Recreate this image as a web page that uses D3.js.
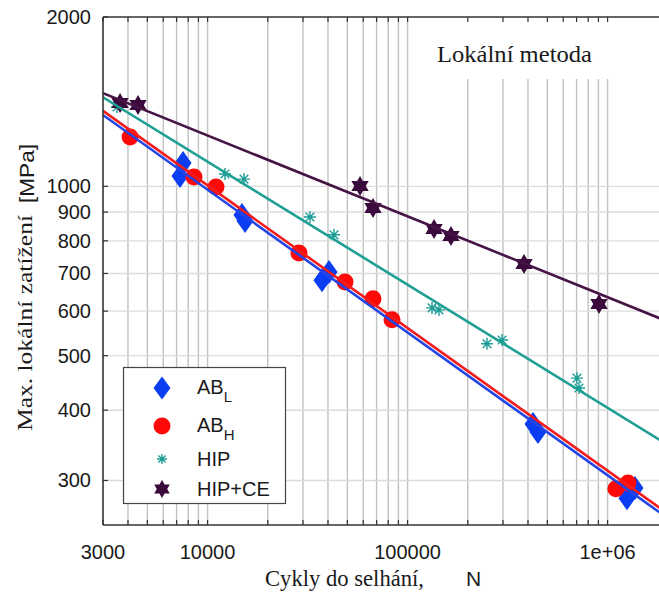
<!DOCTYPE html>
<html>
<head>
<meta charset="utf-8">
<script src="https://cdn.jsdelivr.net/npm/d3@7"></script>
<style>
  body { margin: 0; background: #fff; }
  svg { display: block; }
</style>
</head>
<body>
<svg id="chart" width="659" height="596"></svg>
<script>
// Fatigue test results: cycles to failure N vs. max. local stress [MPa]
const abL   = [[7540,1100],[7280,1043],[14860,889],[15390,868],[37340,681],[40470,704],
               [423900,378],[448800,366],[1371000,291],[1250000,279]];
const abH   = [[4100,1224],[8550,1039],[11020,997],[28650,761],[48670,676],[67170,631],
               [83580,579],[1100000,290],[1265000,297]];
const hip   = [[3525,1384],[12220,1052],[15210,1030],[32510,882],[42880,820],[132500,608],
               [143600,603],[249500,525],[296600,533],[703000,456],[719600,438]];
const hipCe = [[3650,1407],[4490,1395],[57840,1001],[67170,915],[135600,840],[164800,816],
               [382200,728],[906000,618]];

// Fitted S-N lines (end points at the axis limits)
const fitAbL   = [[3000,1339],[2000000,257]];
const fitAbH   = [[3000,1362],[2000000,262]];
const fitHip   = [[3000,1440],[2000000,347]];
const fitHipCe = [[3000,1464],[2000000,575]];

const xTickValues = [3000, 10000, 100000, 1000000];
const xTickLabels = ["3000", "10000", "100000", "1e+06"];
const yTickValues = [300, 400, 500, 600, 700, 800, 900, 1000, 2000];
const yTickLabels = ["300", "400", "500", "600", "700", "800", "900", "1000", "2000"];

const legendMain = ["AB", "AB", "HIP", "HIP+CE"];
const legendSub  = ["L", "H", "", ""];

const C = {
  blue: "#0b3df3", blueLine: "#2446e6",
  red: "#ff0808", redLine: "#f21c1c",
  teal: "#1c9c96", tealLine: "#1d9f93",
  purple: "#3a0a3c", purpleLine: "#461545"
};

const svg = d3.select("#chart");
const pLeft = 103, pTop = 17, pBottom = 525;

const x = d3.scaleLog().domain([3000, 2000000]).range([pLeft, 103 + 200 * Math.log10(2000000 / 3000)]);
const y = d3.scaleLog().domain([250, 2000]).range([pBottom, pTop]);
const pRight = x.range()[1];

const sans = "'Liberation Sans', Arial, Helvetica, sans-serif";
const serif = "'Liberation Serif', 'Times New Roman', serif";

svg.append("defs").append("clipPath").attr("id", "plotClip")
  .append("rect").attr("x", pLeft).attr("y", pTop).attr("width", pRight - pLeft).attr("height", pBottom - pTop);

// grid
const minorX = x.ticks().filter(v => v > 3000);
const grid = svg.append("g");
grid.selectAll("line.gx").data(minorX).join("line")
  .attr("x1", d => x(d)).attr("x2", d => x(d))
  .attr("y1", pTop).attr("y2", pBottom)
  .attr("stroke", "#c2c2c2").attr("stroke-width", 1.4);
grid.selectAll("line.gy").data(yTickValues.filter(v => v < 2000)).join("line")
  .attr("x1", pLeft).attr("x2", pRight)
  .attr("y1", d => y(d)).attr("y2", d => y(d))
  .attr("stroke", "#dcdcdc").attr("stroke-width", 1.4);

// title panel
svg.append("rect").attr("x", 425).attr("y", pTop + 1).attr("width", 260).attr("height", 61).attr("fill", "#fff");
svg.append("text").attr("x", 437).attr("y", 62)
  .attr("font-family", serif).attr("font-size", 23.5).attr("fill", "#1a1a1a")
  .attr("textLength", 155).attr("lengthAdjust", "spacingAndGlyphs")
  .text("Lokální metoda");

// markers
const plot = svg.append("g").attr("clip-path", "url(#plotClip)");

function diamondPath(w, h) {
  return `M0,${-h}L${w},0L0,${h}L${-w},0Z`;
}
function hexagramPath(R) {
  const r = R / Math.sqrt(3);
  const pts = [];
  for (let k = 0; k < 12; k++) {
    const a = -Math.PI / 2 + k * Math.PI / 6;
    const rad = k % 2 === 0 ? R : r;
    pts.push([rad * Math.cos(a), rad * Math.sin(a)]);
  }
  return "M" + pts.map(p => p[0].toFixed(2) + "," + p[1].toFixed(2)).join("L") + "Z";
}
function asteriskPath(s) {
  const d = s * 0.72;
  return `M${-s},0L${s},0M0,${-s}L0,${s}M${-d},${-d}L${d},${d}M${-d},${d}L${d},${-d}`;
}

plot.selectAll("path.abL").data(abL).join("path")
  .attr("transform", d => `translate(${x(d[0])},${y(d[1])})`)
  .attr("d", diamondPath(8.5, 12)).attr("fill", C.blue);
plot.selectAll("circle.abH").data(abH).join("circle")
  .attr("cx", d => x(d[0])).attr("cy", d => y(d[1])).attr("r", 8.5).attr("fill", C.red);
plot.selectAll("path.hip").data(hip).join("path")
  .attr("transform", d => `translate(${x(d[0])},${y(d[1])})`)
  .attr("d", asteriskPath(6)).attr("fill", "none").attr("stroke", C.teal).attr("stroke-width", 1.4);
plot.selectAll("path.hipCe").data(hipCe).join("path")
  .attr("transform", d => `translate(${x(d[0])},${y(d[1])})`)
  .attr("d", hexagramPath(10)).attr("fill", C.purple);

// fit lines
const line = d3.line().x(d => x(d[0])).y(d => y(d[1]));
[[fitAbL, C.blueLine], [fitHip, C.tealLine], [fitHipCe, C.purpleLine], [fitAbH, C.redLine]].forEach(([pts, col]) => {
  plot.append("path").datum(pts).attr("d", line)
    .attr("fill", "none").attr("stroke", col).attr("stroke-width", 2.6);
});

// axes
const axisCol = "#333";
const ax = svg.append("g");
ax.append("line").attr("x1", pLeft).attr("x2", pRight).attr("y1", pBottom).attr("y2", pBottom).attr("stroke", axisCol).attr("stroke-width", 1.6);
ax.append("line").attr("x1", pLeft).attr("x2", pRight).attr("y1", pTop).attr("y2", pTop).attr("stroke", axisCol).attr("stroke-width", 1.6);
ax.append("line").attr("x1", pLeft).attr("x2", pLeft).attr("y1", pTop).attr("y2", pBottom).attr("stroke", axisCol).attr("stroke-width", 1.6);

const allX = x.ticks();
ax.selectAll("line.tb").data(allX).join("line")
  .attr("x1", d => x(d)).attr("x2", d => x(d)).attr("y1", pBottom).attr("y2", pBottom - 5)
  .attr("stroke", axisCol).attr("stroke-width", 1.2);
ax.selectAll("line.tt").data(allX).join("line")
  .attr("x1", d => x(d)).attr("x2", d => x(d)).attr("y1", pTop).attr("y2", pTop + 5)
  .attr("stroke", axisCol).attr("stroke-width", 1.2);
ax.selectAll("line.tl").data(yTickValues).join("line")
  .attr("x1", pLeft).attr("x2", pLeft + 5).attr("y1", d => y(d)).attr("y2", d => y(d))
  .attr("stroke", axisCol).attr("stroke-width", 1.2);

ax.selectAll("text.xl").data(xTickValues).join("text")
  .attr("x", d => x(d)).attr("y", 559).attr("text-anchor", "middle")
  .attr("font-family", sans).attr("font-size", 20).attr("fill", "#1a1a1a")
  .text((d, i) => xTickLabels[i]);
ax.selectAll("text.yl").data(yTickValues).join("text")
  .attr("x", 91).attr("y", d => y(d)).attr("dy", "0.35em").attr("text-anchor", "end")
  .attr("font-family", sans).attr("font-size", 20).attr("fill", "#1a1a1a")
  .text((d, i) => yTickLabels[i]);

// axis titles
svg.append("text").attr("x", 265).attr("y", 586)
  .attr("font-family", serif).attr("font-size", 23).attr("fill", "#1a1a1a")
  .attr("textLength", 159).attr("lengthAdjust", "spacingAndGlyphs")
  .text("Cykly do selhání,");
svg.append("text").attr("x", 466).attr("y", 586)
  .attr("font-family", sans).attr("font-size", 21).attr("fill", "#1a1a1a")
  .text("N");
svg.append("text").attr("transform", "translate(32,431) rotate(-90)")
  .attr("font-family", serif).attr("font-size", 22).attr("fill", "#1a1a1a")
  .attr("textLength", 216).attr("lengthAdjust", "spacingAndGlyphs")
  .text("Max. lokální zatížení");
svg.append("text").attr("transform", "translate(34,203) rotate(-90)")
  .attr("font-family", sans).attr("font-size", 21).attr("fill", "#1a1a1a")
  .attr("textLength", 59).attr("lengthAdjust", "spacingAndGlyphs")
  .text("[MPa]");

// legend
const lg = svg.append("g");
lg.append("rect").attr("x", 123.5).attr("y", 367.5).attr("width", 162).attr("height", 136)
  .attr("fill", "#fff").attr("stroke", "#444").attr("stroke-width", 1.2);
const rowY = [388, 426, 459, 489];
const mx = 162;
lg.append("path").attr("transform", `translate(${mx},${rowY[0]})`).attr("d", diamondPath(8.5, 11.5)).attr("fill", C.blue);
lg.append("circle").attr("cx", mx).attr("cy", rowY[1]).attr("r", 8.5).attr("fill", C.red);
lg.append("path").attr("transform", `translate(${mx},${rowY[2]})`).attr("d", asteriskPath(5)).attr("fill", "none").attr("stroke", C.teal).attr("stroke-width", 1.4);
lg.append("path").attr("transform", `translate(${mx},${rowY[3]})`).attr("d", hexagramPath(9)).attr("fill", C.purple);

legendMain.forEach((m, i) => {
  const t = lg.append("text").attr("x", 197).attr("y", rowY[i] + (legendSub[i] ? 6 : 7))
    .attr("font-family", sans).attr("font-size", 20).attr("fill", "#1a1a1a");
  t.append("tspan").text(m);
  if (legendSub[i]) t.append("tspan").attr("dy", 8).attr("font-size", 15).text(legendSub[i]);
});
</script>
</body>
</html>
